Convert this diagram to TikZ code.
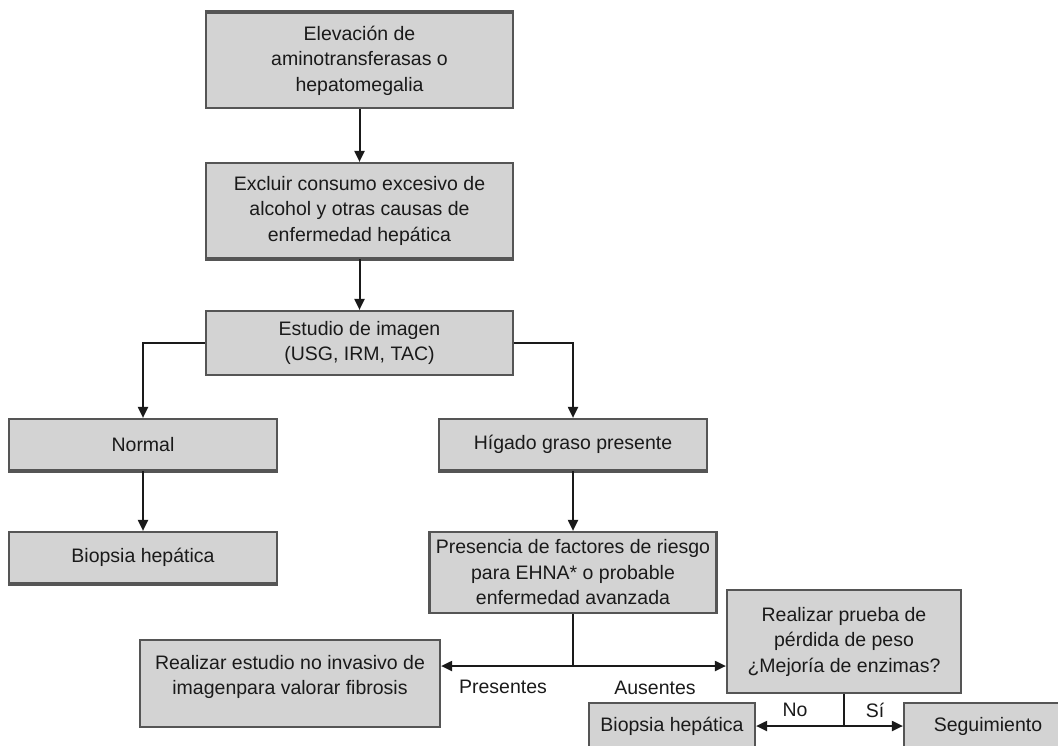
\documentclass[tikz,border=0pt]{standalone}
\usepackage{fontspec}
\setmainfont{Liberation Sans}
\usepackage{xcolor}
\usepackage{tikz}
\usetikzlibrary{arrows.meta,positioning,calc}

\definecolor{boxfill}{HTML}{D3D3D3}
\definecolor{boxline}{HTML}{555555}
\definecolor{txt}{HTML}{1A1A1A}

\tikzset{
  flowbox/.style={draw=boxline, fill=boxfill, line width=2.2pt, align=center,
    inner sep=0pt, text=txt, font=\fontsize{19.5}{25.5}\selectfont},
  flowarrow/.style={line width=2pt, draw=txt, -{Triangle[length=11pt,width=10pt]}},
  flowline/.style={line width=2pt, draw=txt},
  thickedge/.style={draw=boxline, line width=4pt},
  lbl/.style={text=txt, font=\fontsize{19.5}{25.5}\selectfont}
}

\begin{document}
\begin{tikzpicture}[x=1pt,y=-1pt]
	\useasboundingbox (0,0) rectangle (1058,745);
	\clip (0,0) rectangle (1058,745);
	\node[flowbox, minimum width=307, minimum height=95] (elev) at (359.5,60.5) {Elevación de\\aminotransferasas o\\hepatomegalia};
	\node[flowbox, minimum width=307, minimum height=95] (excl) at (359.5,210.5) {Excluir consumo excesivo de\\alcohol y otras causas de\\enfermedad hepática};
	\node[flowbox, minimum width=307, minimum height=64] (estu) at (359.5,343) {Estudio de imagen\\(USG, IRM, TAC)};
	\node[flowbox, minimum width=268, minimum height=51] (normal) at (143,444.5) {Normal};
	\node[flowbox, minimum width=268, minimum height=51] (higado) at (573,444.5) {Hígado graso presente};
	\node[flowbox, minimum width=268, minimum height=51] (biop1) at (143,557.5) {Biopsia hepática};
	\node[flowbox, minimum width=287, minimum height=81] (pres) at (573,572.5) {Presencia de factores de riesgo\\para EHNA* o probable\\enfermedad avanzada};
	\node[flowbox, minimum width=300, minimum height=87] (realest) at (290,683.5) {Realizar estudio no invasivo de\\imagenpara valorar fibrosis\\[-8pt]};
	\node[flowbox, minimum width=234, minimum height=103] (prueba) at (844,641.5) {Realizar prueba de\\pérdida de peso\\¿Mejoría de enzimas?};
	\node[flowbox, minimum width=166, minimum height=46] (biop2) at (672,726) {Biopsia hepática};
	\node[flowbox, minimum width=168, minimum height=46] (seg) at (988,726) {Seguimiento};

	% bordes gruesos
	\draw[thickedge] (elev.north west) -- (elev.north east);
	\foreach \n in {excl,normal,higado,biop1}
		\draw[thickedge] (\n.south west) -- (\n.south east);

	\draw[flowarrow] (elev) -- (excl);
	\draw[flowarrow] (excl) -- (estu);
	\draw[flowarrow] (estu.west) -| (normal.north);
	\draw[flowarrow] (estu.east) -| (higado.north);
	\draw[flowarrow] (normal) -- (biop1);
	\draw[flowarrow] (higado) -- (pres);

	\coordinate (split) at (573,666);
	\draw[flowline] (pres.south) -- (split);
	\draw[flowarrow] (split) -- (split -| realest.east);
	\draw[flowarrow] (split) -- (split -| prueba.west);
	\node[lbl] (pres-lbl) at (503,687) {Presentes};
	\node[lbl] (aus-lbl) at (655,688) {Ausentes};

	\coordinate (split2) at (prueba.south |- biop2.east);
	\draw[flowline] (prueba.south) -- (split2);
	\draw[flowarrow] (split2) -- (biop2.east);
	\draw[flowarrow] (split2) -- (seg.west);
	\node[lbl] (no-lbl) at (795,710) {No};
	\node[lbl] (si-lbl) at (875,710) {Sí};
\end{tikzpicture}
\end{document}
